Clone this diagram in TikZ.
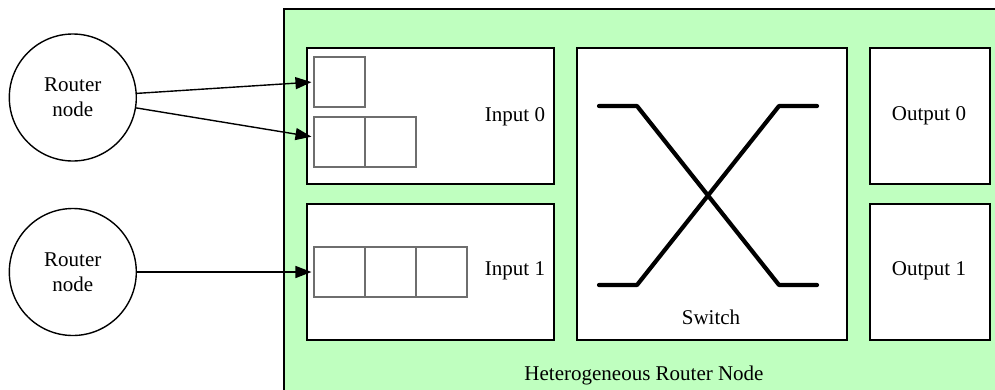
\documentclass[tikz,border=0pt]{standalone}
\usepackage{fontspec}
\setmainfont{Liberation Serif}
\usetikzlibrary{arrows.meta,calc}
\definecolor{routergreen}{HTML}{BFFFBF}
\definecolor{slotgray}{HTML}{6E6E6E}
\begin{document}
\begin{tikzpicture}[x=1pt,y=-1pt,
  font=\fontsize{21}{25}\selectfont,
  router/.style={circle, draw, line width=1.4pt, minimum size=127pt, inner sep=0pt, align=center},
  panel/.style={draw, fill=white, line width=1.3pt, inner sep=0pt},
  slot/.style={draw=slotgray, fill=white, line width=1.1pt, minimum width=51pt, minimum height=50pt, inner sep=0pt},
  xbar/.style={line width=4.2pt, line cap=round, line join=round},
  link/.style={-{Triangle[length=16pt,width=12pt]}, line width=1.4pt, shorten >=2pt},
  lbl/.style={inner sep=0pt}]
\useasboundingbox (0,0) rectangle (995,389);
\clip (0,0) rectangle (995,389);

% enclosing heterogeneous router
\draw[fill=routergreen, line width=1.8pt] (284,9) rectangle (1010,400);
\node[lbl] (hetlabel) at (644,375) {Heterogeneous Router Node};

% input buffers
\node[panel, minimum width=247pt, minimum height=136pt] (in0) at (430.5,116) {};
\node[panel, minimum width=247pt, minimum height=136pt] (in1) at (430.5,272) {};
\node[lbl] (in0label) at (515,117) {Input 0};
\node[lbl] (in1label) at (515,271) {Input 1};

% queue slots
\node[slot] (q0a)  at (339.5,82)  {};
\node[slot] (q0b1) at (339.5,142) {};
\node[slot] (q0b2) at (390.5,142) {};
\node[slot] (q1a)  at (339.5,272) {};
\node[slot] (q1b)  at (390.5,272) {};
\node[slot] (q1c)  at (441.5,272) {};

% crossbar switch
\node[panel, minimum width=270pt, minimum height=292pt] (switch) at (712,194) {};
\node[lbl] (switchlabel) at (711,317) {Switch};
\draw[xbar] (599,106) -- (637,106) -- (779,285) -- (817,285);
\draw[xbar] (599,285) -- (637,285) -- (779,106) -- (817,106);

% output ports
\node[panel, minimum width=120pt, minimum height=136pt] (out0) at (930,116) {};
\node[panel, minimum width=120pt, minimum height=136pt] (out1) at (930,272) {};
\node[lbl] (out0label) at (929,116) {Output 0};
\node[lbl] (out1label) at (929,271) {Output 1};

% neighbouring routers
\node[router] (r0) at (72.8,97.5) {Router\\node};
\node[router] (r1) at (72.8,272) {Router\\node};

% links into the input queues
\draw[link] (r0) -- (q0a.west);
\draw[link] (r0) -- ($(q0b1.west)+(0,-5)$);
\draw[link] (r1) -- (q1a.west);
\end{tikzpicture}
\end{document}
